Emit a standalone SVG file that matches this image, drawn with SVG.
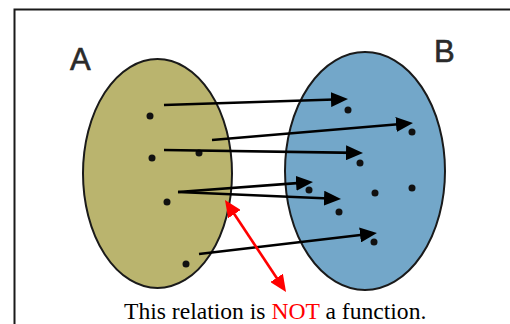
<svg xmlns="http://www.w3.org/2000/svg" width="510" height="324" viewBox="0 0 510 324">
<style>
.set{stroke:#1a1a1a;stroke-width:2}
.dot{fill:#111}
.arr{stroke:#000;stroke-width:2.6;fill:none}
.red{stroke:#f00;stroke-width:2.6;fill:none}
.lbl{font-family:"Liberation Sans",Arial,sans-serif;font-size:31px;fill:#2a2a2a;stroke:#2a2a2a;stroke-width:0.6}
.cap{font-family:"Liberation Serif","Times New Roman",serif;font-size:23.6px;fill:#000}
</style>
<defs>
<marker id="ah" viewBox="0 0 17 15" refX="11" refY="7.5" markerWidth="17" markerHeight="15" markerUnits="userSpaceOnUse" orient="auto">
<path d="M0,0 L17,7.5 L0,15 z" fill="#000"/>
</marker>
<marker id="rh" viewBox="0 0 17 15" refX="11" refY="7.5" markerWidth="17" markerHeight="15" markerUnits="userSpaceOnUse" orient="auto-start-reverse">
<path d="M0,0 L17,7.5 L0,15 z" fill="#f00"/>
</marker>
</defs>
<rect width="510" height="324" fill="#fff"/>
<path d="M14.5,324 V9.5 H510" fill="none" stroke="#1a1a1a" stroke-width="2"/>
<g id="setA">
<ellipse class="set" cx="157.5" cy="173.5" rx="74.5" ry="114.5" fill="#BAB46E"/>
<text class="lbl" x="70" y="70">A</text>
<circle class="dot" cx="150" cy="116" r="3.5"/>
<circle class="dot" cx="152" cy="158" r="3.5"/>
<circle class="dot" cx="199" cy="153" r="3.5"/>
<circle class="dot" cx="167" cy="202" r="3.5"/>
<circle class="dot" cx="186" cy="264" r="3.5"/>
</g>
<g id="setB">
<ellipse class="set" cx="365" cy="171" rx="80" ry="119" fill="#73A7C9"/>
<text class="lbl" x="434" y="62">B</text>
<circle class="dot" cx="348" cy="110" r="3.5"/>
<circle class="dot" cx="412" cy="132" r="3.5"/>
<circle class="dot" cx="360" cy="163" r="3.5"/>
<circle class="dot" cx="309" cy="190" r="3.5"/>
<circle class="dot" cx="375" cy="193" r="3.5"/>
<circle class="dot" cx="412" cy="188" r="3.5"/>
<circle class="dot" cx="339" cy="212" r="3.5"/>
<circle class="dot" cx="374" cy="242" r="3.5"/>
</g>
<g id="connectors">
<line class="arr" x1="164" y1="105" x2="342" y2="99.2" marker-end="url(#ah)"/>
<line class="arr" x1="212" y1="140" x2="407" y2="123.5" marker-end="url(#ah)"/>
<line class="arr" x1="164" y1="150" x2="357" y2="152.9" marker-end="url(#ah)"/>
<line class="arr" x1="178" y1="192" x2="307" y2="182.4" marker-end="url(#ah)"/>
<line class="arr" x1="178" y1="192" x2="335" y2="198.7" marker-end="url(#ah)"/>
<line class="arr" x1="199" y1="254" x2="371" y2="233.7" marker-end="url(#ah)"/>
<line class="red" x1="228.3" y1="205" x2="282.7" y2="287" marker-start="url(#rh)" marker-end="url(#rh)"/>
</g>
<text class="cap" x="124" y="319">This relation is <tspan fill="#f00">NOT</tspan> a function.</text>
</svg>
